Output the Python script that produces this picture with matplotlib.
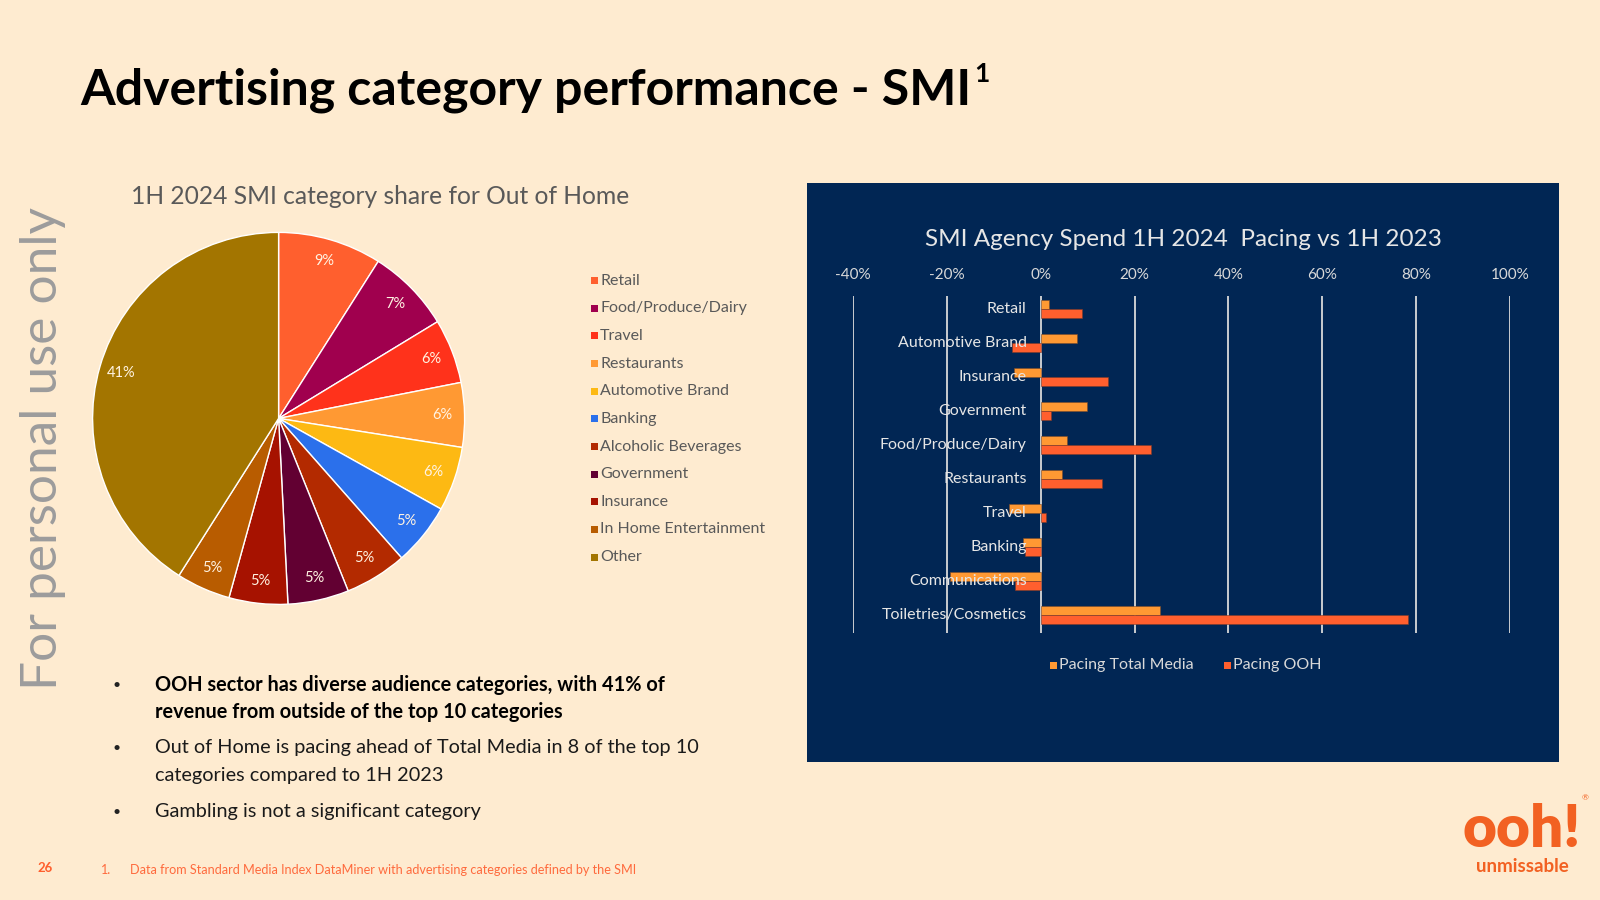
import matplotlib
matplotlib.use("Agg")
import matplotlib.pyplot as plt
from matplotlib.patches import Rectangle

W, H = 1600, 900
BG = "#FEEBD0"
NAVY = "#012654"

# pie data: 1H 2024 SMI category share for Out of Home (%)
pie_labels = ["Retail", "Food/Produce/Dairy", "Travel", "Restaurants",
              "Automotive Brand", "Banking", "Alcoholic Beverages",
              "Government", "Insurance", "In Home Entertainment", "Other"]
pie_values = [9.0, 7.3, 5.6, 5.6, 5.6, 5.4, 5.4, 5.3, 5.1, 4.7, 41.0]
pie_colors = ["#FF5F2E", "#A0004E", "#FF321B", "#FF9933", "#FDB913",
              "#2B70EB", "#B32A00", "#620032", "#A61200", "#B85C00",
              "#A37500"]

# bar data: pacing 1H 2024 vs 1H 2023 (%)
bar_cats = ["Retail", "Automotive Brand", "Insurance", "Government",
            "Food/Produce/Dairy", "Restaurants", "Travel", "Banking",
            "Communications", "Toiletries/Cosmetics"]
pacing_total = [1.7, 7.7, -5.7, 9.9, 5.6, 4.5, -6.8, -3.7, -19.3, 25.4]
pacing_ooh = [8.8, -6.2, 14.3, 2.2, 23.4, 13.0, 1.1, -3.4, -5.5, 78.2]
xticks = [-40, -20, 0, 20, 40, 60, 80, 100]

bullets = [
    (["OOH sector has diverse audience categories, with 41% of",
      "revenue from outside of the top 10 categories"], "bold"),
    (["Out of Home is pacing ahead of Total Media in 8 of the top 10",
      "categories compared to 1H 2023"], "normal"),
    (["Gambling is not a significant category"], "normal"),
]

plt.rcParams["font.family"] = ["Lato", "DejaVu Sans"]

fig = plt.figure(figsize=(16, 9), dpi=100, facecolor=BG)


def fx(x):
    return x / W


def fy(y):
    return 1 - y / H


def square(x, y, s, color):
    fig.add_artist(Rectangle((fx(x - s / 2), fy(y + s / 2)), s / W, s / H,
                             transform=fig.transFigure, color=color, lw=0, zorder=5))


# title
title = fig.text(fx(80), fy(90), "Advertising category performance - SMI", fontsize=36,
                 fontweight="bold", color="black", va="center", ha="left")
fig.canvas.draw()
bb = title.get_window_extent()
fig.text(bb.x1 / W + fx(3), fy(74), "1", fontsize=19, fontweight="bold", va="center")

# side watermark
fig.text(fx(43), fy(449), "For personal use only", fontsize=37, color="#9C9C9C",
         rotation=90, ha="center", va="center")

# pie
cx, cy, r = 278.6, 418.4, 186
ax_pie = fig.add_axes([fx(cx - r), fy(cy + r), 2 * r / W, 2 * r / H])
ax_pie.pie(pie_values, colors=pie_colors, startangle=90, counterclock=False,
           autopct="%.0f%%", pctdistance=0.88,
           wedgeprops=dict(edgecolor="white", linewidth=1),
           textprops=dict(color="#FFF3E2", fontsize=10.5))
ax_pie.set_xlim(-1, 1)
ax_pie.set_ylim(-1, 1)
ax_pie.set_facecolor(BG)

fig.text(fx(131), fy(197), "1H 2024 SMI category share for Out of Home",
         fontsize=17.7, color="#595959", va="center")

for i, (lab, col) in enumerate(zip(pie_labels, pie_colors)):
    y = 280.6 + i * 27.65
    square(594, y, 7, col)
    fig.text(fx(600), fy(y), lab, fontsize=11.5, color="#595959", va="center")

# bullets, one text per line
ys = [685, 748, 811.5]
for (lines, wt), y in zip(bullets, ys):
    fig.text(fx(113), fy(y), "•", fontsize=10, color="#222222", va="center")
    for k, line in enumerate(lines):
        fig.text(fx(155), fy(y + k * 27), line, fontsize=14.3, fontweight=wt,
                 color="black" if wt == "bold" else "#1A1A1A", va="center")

# navy panel
fig.add_artist(Rectangle((fx(807), fy(762)), (1559 - 807) / W, (762 - 183) / H,
                         transform=fig.transFigure, color=NAVY, lw=0, zorder=-1))
fig.text(fx(1183), fy(239), "SMI Agency Spend 1H 2024  Pacing vs 1H 2023",
         fontsize=17.5, color="#E6E6E6", ha="center", va="center")

ax_bar = fig.add_axes([fx(853), fy(633), (1510 - 853) / W, (633 - 296) / H])
ax_bar.set_facecolor("none")
pos = list(range(len(bar_cats)))
bh = 0.26
ax_bar.barh([p - bh / 2 for p in pos], pacing_total, height=bh, color="#FF9933",
            edgecolor="#7A4A2A", linewidth=0.4, zorder=3, label="Pacing Total Media")
ax_bar.barh([p + bh / 2 for p in pos], pacing_ooh, height=bh, color="#FF5F2E",
            edgecolor="#7A3A2A", linewidth=0.4, zorder=3, label="Pacing OOH")
ax_bar.set_xlim(-40, 100)
ax_bar.set_ylim(9.53, -0.38)
ax_bar.set_xticks(xticks)
ax_bar.set_xticklabels([f"{t}%" for t in xticks], color="#D9D9D9", fontsize=11)
ax_bar.xaxis.tick_top()
ax_bar.tick_params(axis="x", length=0, pad=10)
ax_bar.set_yticks([])
for s in ax_bar.spines.values():
    s.set_visible(False)
for t in xticks:
    ax_bar.axvline(t, color="#D9D9D9", lw=1.3, zorder=1)
for p, name in zip(pos, bar_cats):
    ax_bar.text(-3, p, name, ha="right", va="center", fontsize=11.5,
                color="#E6E6E6", zorder=4)

square(1053, 665, 7, "#FF9933")
fig.text(fx(1059), fy(665), "Pacing Total Media", fontsize=11.5, color="#D9D9D9", va="center")
square(1227, 665, 7, "#FF5F2E")
fig.text(fx(1233), fy(665), "Pacing OOH", fontsize=11.5, color="#D9D9D9", va="center")

# footer
fig.text(fx(37), fy(868), "26", fontsize=9.5, fontweight="bold", color="#FF5F2E", va="center")
fig.text(fx(101), fy(870), "1.", fontsize=9, color="#FF6A3D", va="center")
fig.text(fx(130), fy(870),
         "Data from Standard Media Index DataMiner with advertising categories defined by the SMI",
         fontsize=9.1, color="#FF6A3D", va="center")

# logo
fig.text(fx(1522), fy(856), "ooh!", fontsize=42, fontweight="heavy", color="#F26122",
         ha="center", va="bottom")
fig.text(fx(1522), fy(866), "unmissable", fontsize=13.5, fontweight="bold",
         color="#F26122", ha="center", va="center")
fig.text(fx(1585), fy(798), "®", fontsize=6, color="#F26122", ha="center", va="center")

fig.savefig("out.png", dpi=100, facecolor=BG)
